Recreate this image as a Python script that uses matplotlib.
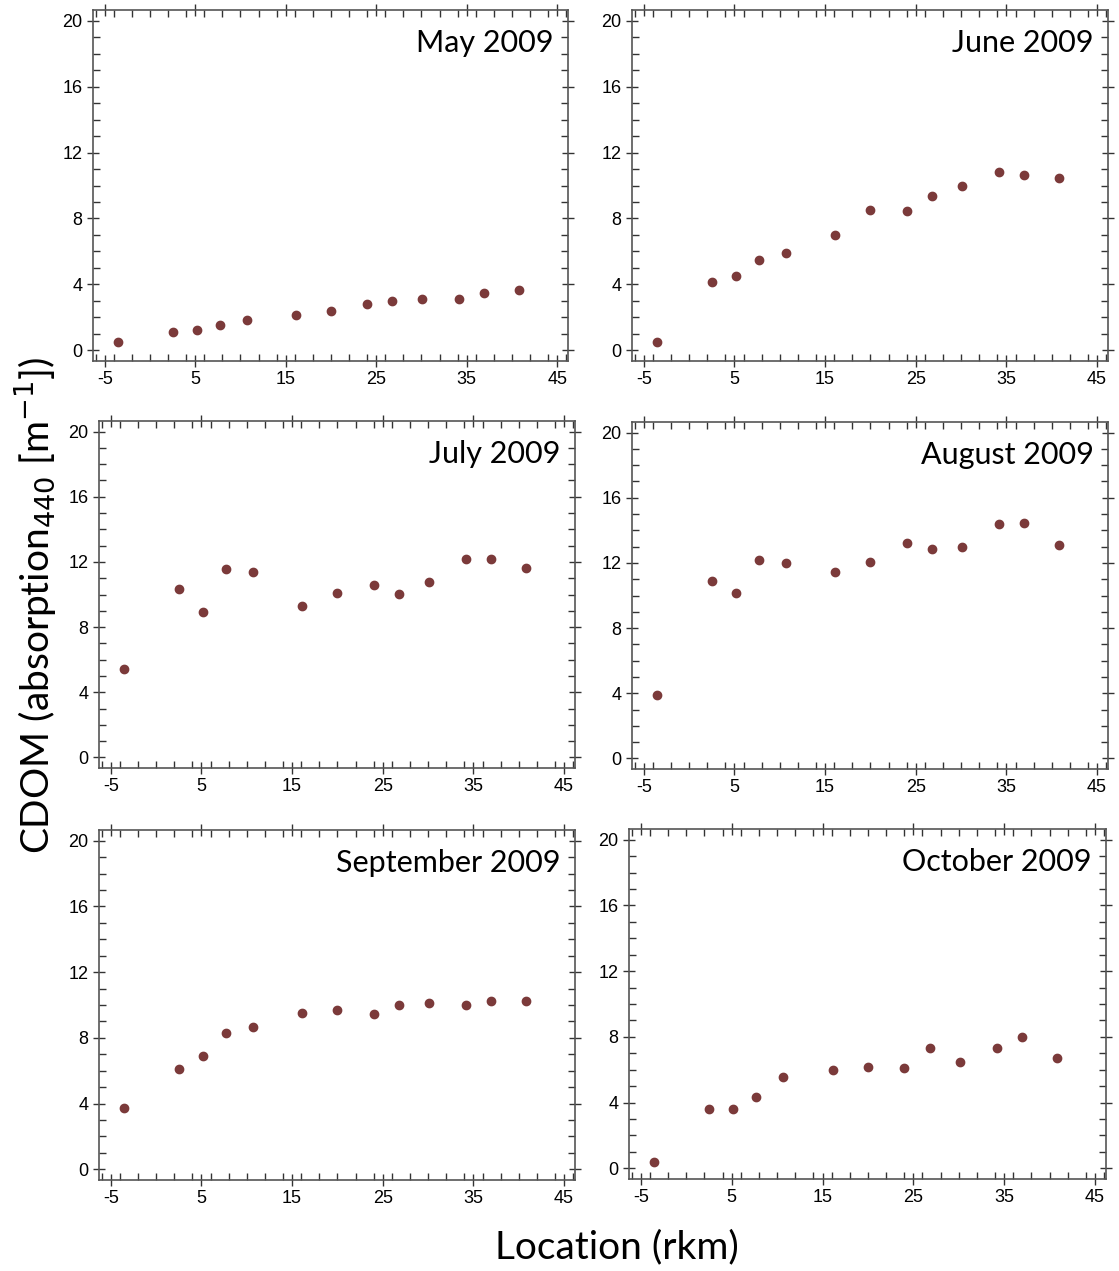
import matplotlib
matplotlib.use("Agg")
import matplotlib.pyplot as plt
from matplotlib.ticker import MultipleLocator

plt.rcParams["axes.unicode_minus"] = False

# station positions (rkm), same for every survey
rkm = [-3.5, 2.5, 5.2, 7.7, 10.7, 16.1, 20.0, 24.0, 26.8, 30.1, 34.2, 36.9, 40.8]

may = [0.51, 1.13, 1.25, 1.52, 1.82, 2.13, 2.37, 2.83, 2.98, 3.12, 3.12, 3.48, 3.68]
june = [0.50, 4.13, 4.49, 5.47, 5.93, 7.02, 8.54, 8.46, 9.35, 10.0, 10.81, 10.65, 10.43]
july = [5.42, 10.36, 8.91, 11.57, 11.37, 9.28, 10.07, 10.58, 10.01, 10.74, 12.18, 12.18, 11.61]
august = [3.90, 10.91, 10.16, 12.20, 12.00, 11.43, 12.06, 13.21, 12.85, 12.97, 14.36, 14.44, 13.09]
september = [3.73, 6.11, 6.92, 8.27, 8.69, 9.50, 9.70, 9.44, 10.0, 10.14, 10.0, 10.22, 10.22]
october = [0.40, 3.61, 3.61, 4.31, 5.54, 5.99, 6.19, 6.11, 7.34, 6.45, 7.34, 8.00, 6.69]

titles = ["May 2009", "June 2009", "July 2009", "August 2009", "September 2009", "October 2009"]
series = [may, june, july, august, september, october]

W, H = 1119, 1271
fig = plt.figure(figsize=(W / 100, H / 100), dpi=100)

# panel boxes in pixels: left, right, top, bottom
boxes = [(93, 568, 10, 361), (632, 1108, 10, 361),
         (99, 575, 421, 768), (632, 1108, 422, 769),
         (99, 575, 830, 1180), (629, 1106, 829, 1179)]

label_font = "Lato"
tick_font = "Liberation Sans"
col = "#7b3a3a"

for (l, r, t, b), title, vals in zip(boxes, titles, series):
    ax = fig.add_axes([l / W, 1 - b / H, (r - l) / W, (b - t) / H])
    ax.plot(rkm, vals, "o", color=col, ms=6, mec=col)
    ax.set_xlim(-6.3, 46.2)
    ax.set_ylim(-0.65, 20.65)
    ax.xaxis.set_minor_locator(MultipleLocator(2))
    ax.set_xticks([-5, 5, 15, 25, 35, 45])
    ax.yaxis.set_major_locator(MultipleLocator(4))
    ax.yaxis.set_minor_locator(MultipleLocator(1))
    ax.tick_params(which="both", top=True, right=True, color="#333333", width=1)
    ax.tick_params(which="major", direction="inout", length=9, labelsize=13, pad=3)
    ax.tick_params(which="minor", direction="in", length=5)
    for lab in ax.get_xticklabels() + ax.get_yticklabels():
        lab.set_fontfamily(tick_font)
    for s in ax.spines.values():
        s.set_color("#555555")
        s.set_linewidth(1.2)
    ax.text(0.97, 0.945, title, transform=ax.transAxes, ha="right", va="top",
            fontsize=22, family=label_font)

fig.text(35 / W, 1 - 605 / H, r"CDOM (absorption$_{440}$ [m$^{-1}$])", rotation=90,
         ha="center", va="center", fontsize=28, family=label_font)
fig.text(617 / W, 1 - 1247 / H, "Location (rkm)", ha="center", va="center",
         fontsize=28, family=label_font)

fig.savefig("out.png", dpi=100)
